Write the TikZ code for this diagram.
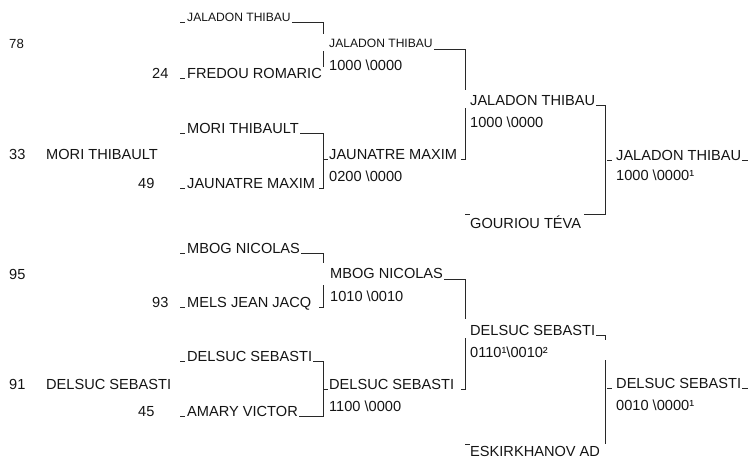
\documentclass[tikz,border=0pt]{standalone}
\usepackage{fontspec}
\setmainfont{Liberation Sans}
\usetikzlibrary{calc}
\definecolor{txt}{RGB}{20,20,20}
\definecolor{lnc}{RGB}{40,40,40}
\begin{document}
\begin{tikzpicture}[x=1pt,y=-1pt,
  lbl/.style={anchor=base west, inner sep=0pt, font=\fontsize{14.6}{17}\selectfont, text=txt},
  sm/.style={lbl, font=\fontsize{12.1}{14}\selectfont},
  ln/.style={draw=lnc, line width=0.9pt}]
\useasboundingbox (0,0) rectangle (749,458);
% round 0
\node[lbl, font=\fontsize{13.2}{15}\selectfont] (n78) at (9,48) {78};
\node[lbl] (n33) at (9,159) {33};
\node[lbl] (p0a) at (46,159) {MORI THIBAULT};
\node[lbl] (n95) at (9,279) {95};
\node[lbl] (n91) at (9,389) {91};
\node[lbl] (p0b) at (46,389) {DELSUC SEBASTI};
% round 1
\node[sm] (a1) at (187,21) {JALADON THIBAU};
\node[lbl] (n24) at (152,78) {24};
\node[lbl] (a2) at (187,78) {FREDOU ROMARIC};
\node[lbl] (a3) at (187,133) {MORI THIBAULT};
\node[lbl] (n49) at (138,188) {49};
\node[lbl] (a4) at (187,188) {JAUNATRE MAXIM};
\node[lbl] (a5) at (187,253) {MBOG NICOLAS};
\node[lbl] (n93) at (152,307) {93};
\node[lbl] (a6) at (187,307) {MELS JEAN JACQ};
\node[lbl] (a7) at (187,361) {DELSUC SEBASTI};
\node[lbl] (n45) at (138,416) {45};
\node[lbl] (a8) at (187,416) {AMARY VICTOR};
% round 2
\node[sm] (b1) at (329,47) {JALADON THIBAU};
\node[lbl] (b1s) at (329,70) {1000 \textbackslash 0000};
\node[lbl] (b2) at (329,159) {JAUNATRE MAXIM};
\node[lbl] (b2s) at (329,181) {0200 \textbackslash 0000};
\node[lbl] (b3) at (330,278) {MBOG NICOLAS};
\node[lbl] (b3s) at (330,301) {1010 \textbackslash 0010};
\node[lbl] (b4) at (329,389) {DELSUC SEBASTI};
\node[lbl] (b4s) at (329,411) {1100 \textbackslash 0000};
% round 3
\node[lbl] (c1) at (470,105) {JALADON THIBAU};
\node[lbl] (c1s) at (470,127) {1000 \textbackslash 0000};
\node[lbl] (c2) at (470,228) {GOURIOU TÉVA};
\node[lbl] (c3) at (470,335) {DELSUC SEBASTI};
\node[lbl] (c3s) at (470,357) {0110¹\textbackslash 0010²};
\node[lbl] (c4) at (470,456) {ESKIRKHANOV AD};
% final
\node[lbl] (d1) at (616,160) {JALADON THIBAU};
\node[lbl] (d1s) at (616,180) {1000 \textbackslash 0000¹};
\node[lbl] (d2) at (616,388) {DELSUC SEBASTI};
\node[lbl] (d2s) at (616,410) {0010 \textbackslash 0000¹};
% round 1 lines
\draw[ln] (180,22) -- (185,22);
\draw[ln] ($(a1.base east |- 0,22)+(1,0)$) -- (323,22) -- (323,34);
\draw[ln] (323,51) -- (323,67);
\draw[ln] (180,78) -- (185,78);
\draw[ln] (180,133) -- (185,133);
\draw[ln] ($(a3.base east |- 0,133)+(1,0)$) -- (323,133) -- (323,188) -- (319,188);
\draw[ln] (180,188) -- (185,188);
\draw[ln] (180,253) -- (185,253);
\draw[ln] ($(a5.base east |- 0,253)+(1,0)$) -- (323,253) -- (323,263);
\draw[ln] (323,285) -- (323,307) -- (319,307);
\draw[ln] (180,307) -- (185,307);
\draw[ln] (180,361) -- (185,361);
\draw[ln] ($(a7.base east |- 0,361)+(1,0)$) -- (323,361) -- (323,416) -- ($(a8.base east |- 0,416)+(1,0)$);
\draw[ln] (180,416) -- (185,416);
% round 2 lines
\draw[ln] (323,159) -- (328,159);
\draw[ln] (323,389) -- (328,389);
\draw[ln] ($(b1.base east |- 0,49)+(1,0)$) -- (465,49) -- (465,90);
\draw[ln] (465,108) -- (465,159) -- (461,159);
\draw[ln] ($(b3.base east |- 0,279)+(1,0)$) -- (465,279) -- (465,319);
\draw[ln] (465,338) -- (465,389) -- (461,389);
% round 3 lines
\draw[ln] ($(c1.base east)+(1,0)$) -- (605.5,105) -- (605.5,214) -- ($(c2.base east |- 0,214)+(3,0)$);
\draw[ln] (465,214) -- (470,214);
\draw[ln] ($(c3.base east)+(1,0)$) -- (605.5,335) -- (605.5,340);
\draw[ln] (605.5,360) -- (605.5,444);
\draw[ln] (465,444) -- (470,444);
% final lines
\draw[ln] (607,160) -- (612,160);
\draw[ln] ($(d1.base east)+(1,0)$) -- (748,160);
\draw[ln] (607,388) -- (612,388);
\draw[ln] ($(d2.base east)+(1,0)$) -- (748,388);
\end{tikzpicture}
\end{document}
